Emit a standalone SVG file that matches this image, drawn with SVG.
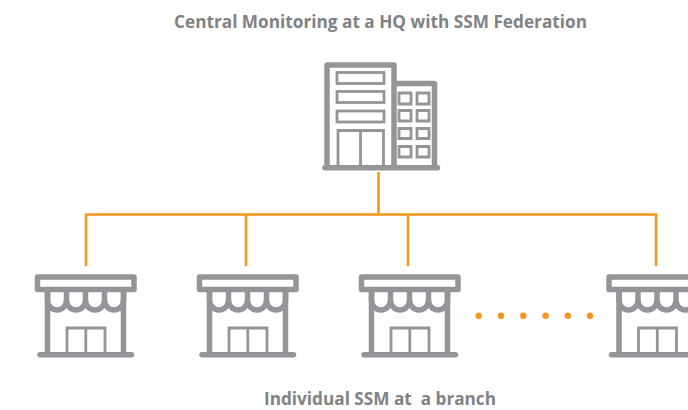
<svg xmlns="http://www.w3.org/2000/svg" width="688" height="410" viewBox="0 0 688 410">
<style>
.t{font-family:"Open Sans","Liberation Sans",sans-serif;font-weight:700;font-size:18px;fill:#808285;text-anchor:middle}
.g{fill:none;stroke:#939598;stroke-linejoin:round;stroke-linecap:round}
.h{stroke-width:5.5}.n{stroke-width:2.8;stroke-linecap:butt;stroke-linejoin:miter}
.c{fill:none;stroke:#f7941d;stroke-width:2.5}
.d{fill:#f7941d}
</style>
<defs>
<g id="shop">
<rect class="g h" x="37.500" y="277" width="96.500" height="12.500"/>
<path class="g h" d="M47.500 291V354.500M123.500 291V354.500M40 354.700H131.500"/>
<path class="g h" d="M47.500 291V300a9.500 10 0 0 0 19 0a9.500 10 0 0 0 19 0a9.500 10 0 0 0 19 0a9.500 10 0 0 0 19 0V291M66.500 291V300M85.500 291V300M104.500 291V300"/>
<path class="g n" d="M67 354V328H105V354M85.800 328V354"/>
</g>
</defs>
<text class="t" x="380.500" y="28" textLength="413" lengthAdjust="spacingAndGlyphs">Central Monitoring at a HQ with SSM Federation</text>
<g id="connectors">
<path class="c" d="M378.500 172V214.500M86 266V214.500H656V266M246 214.500V266M408 214.500V266"/>
</g>
<g id="hq">
<path class="g h" d="M327 167V65H394V167M394 83.500H434.500V167M325 167.700H437.500"/>
<g class="g n">
<rect x="337" y="72.500" width="47" height="11"/>
<rect x="337" y="91.500" width="47" height="11"/>
<rect x="337" y="111" width="47" height="11"/>
<path d="M338 167V130.500H383.500V167M360.500 130.500V167"/>
<path d="M399 93H411V104H399ZM417 93H429V104H417ZM399 110.500H411V121H399ZM417 110.500H429V121H417ZM399 128.500H411V138.500H399ZM417 128.500H429V138.500H417ZM399 146.500H411V157H399ZM417 146.500H429V157H417Z"/>
</g>
</g>
<g id="branch1"><use href="#shop"/></g>
<g id="branch2"><use href="#shop" x="162"/></g>
<g id="branch3"><use href="#shop" x="324"/></g>
<g id="ellipsis" class="d">
<circle cx="478.700" cy="315.700" r="3.200"/><circle cx="501" cy="315.700" r="3.200"/><circle cx="523.300" cy="315.700" r="3.200"/><circle cx="545.600" cy="315.700" r="3.200"/><circle cx="567.800" cy="315.700" r="3.200"/><circle cx="590" cy="315.700" r="3.200"/>
</g>
<g id="branch4"><use href="#shop" x="571.500"/></g>
<text class="t" x="380" y="404.500" textLength="232" lengthAdjust="spacingAndGlyphs" xml:space="preserve">Individual SSM at  a branch</text>
</svg>
